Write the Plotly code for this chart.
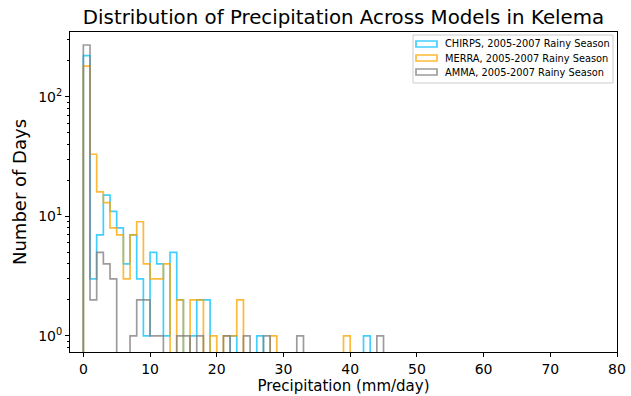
import plotly.graph_objects as go

# Bin edges are 1 mm/day wide starting at 0; counts per bin
chirps_counts = [220, 3, 7, 15, 11, 8, 4, 7, 3, 1, 5, 4, 1, 5, 2, 0, 1, 2, 2, 0,
                 0, 0, 1, 0, 0, 0, 1, 0, 0, 0, 0, 0, 0, 0, 0, 0, 0, 0, 0, 0,
                 0, 0, 1]
merra_counts = [180, 33, 16, 13, 8, 7, 3, 7, 9, 4, 3, 3, 4, 0, 2, 0, 2, 2, 0, 1,
                0, 1, 1, 2, 0, 0, 0, 0, 1, 0, 0, 0, 0, 0, 0, 0, 0, 0, 0, 1]
amma_counts = [270, 2, 5, 4, 3, 0, 0, 1, 2, 2, 1, 1, 0, 0, 1, 1, 0, 1, 0, 0,
               0, 1, 0, 0, 1, 0, 0, 1, 0, 0, 0, 0, 1, 0, 0, 0, 0, 0, 0, 0,
               0, 0, 0, 0, 1]
bin_width = 1.0

series_names = ["CHIRPS, 2005-2007 Rainy Season",
                "MERRA, 2005-2007 Rainy Season",
                "AMMA, 2005-2007 Rainy Season"]
series_counts = [chirps_counts, merra_counts, amma_counts]
series_colors = ["rgba(0,191,255,0.75)", "rgba(255,165,0,0.78)", "rgba(128,128,128,0.78)"]

FLOOR = 0.05  # below the visible log range: zero-count bins drop to the axis

# plot-area geometry in pixels
W, H = 631, 396
L, R, T, B = 70, 617, 32, 352


def step_xy(counts, width):
    n = len(counts)
    edges = [i * width for i in range(n + 1)]
    ys = [c if c > 0 else FLOOR for c in counts]
    x = [edges[0]] + edges[:n] + [edges[n]]
    y = [FLOOR] + ys + [FLOOR]
    return x, y


def px_x(p):
    return (p - L) / (R - L)


def px_y(p):
    return (B - p) / (B - T)


fig = go.Figure()
for name, counts, color in zip(series_names, series_counts, series_colors):
    x, y = step_xy(counts, bin_width)
    fig.add_trace(go.Scatter(x=x, y=y, mode="lines", line=dict(color=color, width=1.7, shape="hv"),
                             name=name, showlegend=False, hoverinfo="skip"))

# matplotlib-style legend: box, outlined-rectangle keys and labels
shapes = [dict(type="rect", xref="paper", yref="paper",
               x0=px_x(413), x1=px_x(613), y0=px_y(83), y1=px_y(35),
               line=dict(color="#cccccc", width=1), fillcolor="rgba(255,255,255,0.8)", layer="above")]
annotations = []
for i, (name, color) in enumerate(zip(series_names, series_colors)):
    yc = 44 + 14 * i
    shapes.append(dict(type="rect", xref="paper", yref="paper",
                       x0=px_x(416), x1=px_x(437), y0=px_y(yc + 3), y1=px_y(yc - 3),
                       line=dict(color=color, width=1.7), fillcolor="rgba(0,0,0,0)", layer="above"))
    annotations.append(dict(text=name, xref="paper", yref="paper", x=px_x(443), y=px_y(yc),
                            xanchor="left", yanchor="middle", showarrow=False,
                            font=dict(size=9.8, color="black")))

font_family = "DejaVu Sans, sans-serif"
fig.update_layout(
    width=W, height=H,
    margin=dict(l=L, r=W - R, t=T, b=H - B),
    paper_bgcolor="white", plot_bgcolor="white",
    font=dict(family=font_family, color="black"),
    title=dict(text="Distribution of Precipitation Across Models in Kelema",
               x=(L + R) / 2 / W, xanchor="center", y=1 - 17 / H, yanchor="middle",
               font=dict(size=19.8, color="black")),
    showlegend=False,
    shapes=shapes,
    annotations=annotations,
)
fig.update_xaxes(range=[-2, 80], tickvals=[0, 10, 20, 30, 40, 50, 60, 70, 80],
                 ticks="outside", ticklen=4, tickcolor="black", showline=True, mirror=True,
                 linecolor="black", linewidth=1, showgrid=False, zeroline=False,
                 tickfont=dict(size=14), automargin=False,
                 title=dict(text="Precipitation (mm/day)", font=dict(size=15), standoff=3))
minor_vals = [0.8, 0.9] + [k * 10 ** p for p in range(0, 3) for k in range(2, 10)]
fig.update_yaxes(type="log", range=[-0.134, 2.54], tickvals=[1, 10, 100],
                 ticktext=["10<sup>0</sup>", "10<sup>1</sup>", "10<sup>2</sup>"],
                 ticks="outside", ticklen=4, tickcolor="black", showline=True, mirror=True,
                 linecolor="black", linewidth=1, showgrid=False, zeroline=False,
                 tickfont=dict(size=14), automargin=False,
                 minor=dict(tickvals=minor_vals, ticks="outside", ticklen=2, tickcolor="black", showgrid=False),
                 title=dict(text="Number of Days", font=dict(size=18), standoff=6))

fig.write_html("out.html", config={"displayModeBar": False},
               post_script="document.body.style.margin='0px';")
